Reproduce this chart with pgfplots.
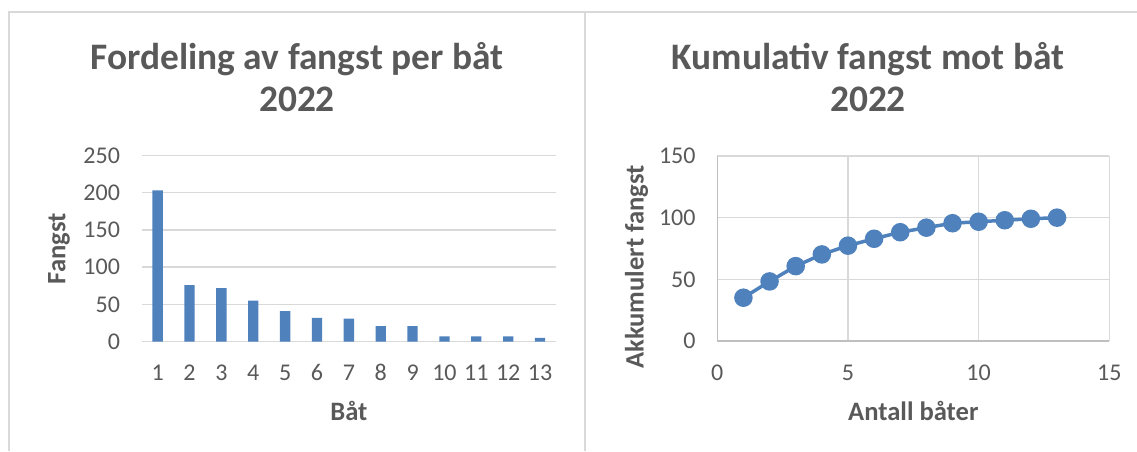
\documentclass[border=0pt]{standalone}
\usepackage{pgfplots}
\pgfplotsset{compat=1.18}
\usepackage{fontspec}
\setmainfont{Carlito}
\definecolor{txt}{HTML}{595959}
\definecolor{grd}{HTML}{D9D9D9}
\definecolor{axl}{HTML}{BFBFBF}
\definecolor{blu}{HTML}{4F81BD}
\begin{document}
\begin{tikzpicture}
\useasboundingbox (0,0) rectangle (568.5pt,225.5pt);
\draw[grd, line width=0.75pt] (4.5pt,0) -- (4.5pt,219.5pt) -- (568.5pt,219.5pt);
\draw[grd, line width=0.75pt] (292.5pt,0) -- (292.5pt,219.5pt);
\node[anchor=base, text=txt, font=\fontsize{18.7}{22}\selectfont\bfseries] at (148.5pt,190.75pt) {Fordeling av fangst per båt};
\node[anchor=base, text=txt, font=\fontsize{18.7}{22}\selectfont\bfseries] at (148.5pt,169.65pt) {2022};
\node[anchor=base, text=txt, font=\fontsize{18.7}{22}\selectfont\bfseries] at (434pt,190.75pt) {Kumulativ fangst mot båt};
\node[anchor=base, text=txt, font=\fontsize{18.7}{22}\selectfont\bfseries] at (434pt,169.65pt) {2022};

\pgfplotsset{
  excelstyle/.style={
    scale only axis,
    anchor=south west,
    /pgf/number format/assume math mode=true,
    tick label style={font=\fontsize{12}{14}\selectfont, text=txt},
    label style={font=\fontsize{13.3}{16}\selectfont\bfseries, text=txt},
    major tick length=0pt,
    xticklabel style={anchor=base},
    yticklabel style={anchor=east, xshift=-7.35pt},
  }
}

\begin{axis}[excelstyle,
  at={(70.85pt,54.65pt)},
  width=207.15pt, height=93.15pt,
  xmin=0.5, xmax=13.5, ymin=0, ymax=250,
  ytick={0,50,100,150,200,250},
  xtick={1,2,3,4,5,6,7,8,9,10,11,12,13},
  xticklabel style={yshift=-19.15pt},
  ymajorgrids,
  grid style={grd, line width=0.7pt},
  axis line style={draw=none},
  ybar, bar width=5.15pt,
  xlabel={Båt}, ylabel={Fangst},
  xlabel style={at={(axis description cs:0.5,0)}, anchor=base, yshift=-39.15pt},
  ylabel style={at={(axis description cs:-0.1996,0.5)}, anchor=center},
]
\addplot[fill=blu, draw=none] coordinates {
(1,203) (2,76) (3,72) (4,55) (5,41) (6,32) (7,31) (8,21) (9,21) (10,7) (11,7) (12,7) (13,5)
};
\end{axis}

\begin{axis}[excelstyle,
  at={(358.65pt,55pt)},
  width=196pt, height=92.5pt,
  xmin=0, xmax=15, ymin=0, ymax=150,
  xtick={0,5,10,15}, ytick={0,50,100,150},
  xticklabel style={yshift=-19.85pt},
  grid=major,
  grid style={grd, line width=0.7pt},
  axis lines*=left,
  axis line style={-, draw=axl, line width=0.7pt},
  xlabel={Antall båter}, ylabel={Akkumulert fangst},
  xlabel style={at={(axis description cs:0.5,0)}, anchor=base, yshift=-39.5pt},
  ylabel style={at={(axis description cs:-0.2061,0.4)}, anchor=center},
]
\addplot[blu, line width=1.75pt, mark=*, mark size=3.75pt, mark options={fill=blu, draw=none}] coordinates {
(1,35.1) (2,48.3) (3,60.7) (4,70.2) (5,77.3) (6,82.9) (7,88.2) (8,91.9) (9,95.5) (10,96.7) (11,97.9) (12,99.1) (13,100)
};
\end{axis}
\end{tikzpicture}
\end{document}
